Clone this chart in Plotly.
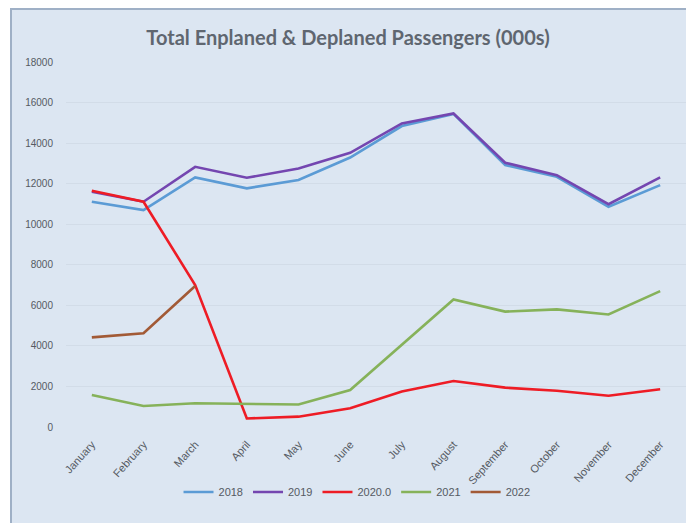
import plotly.graph_objects as go

months = ["January", "February", "March", "April", "May", "June", "July",
          "August", "September", "October", "November", "December"]
y2018 = [11110, 10700, 12310, 11770, 12180, 13290, 14840, 15440, 12920, 12340, 10860, 11930]
y2019 = [11600, 11110, 12830, 12290, 12750, 13520, 14970, 15460, 13030, 12420, 10990, 12310]
y2020 = [11650, 11110, 7000, 420, 510, 920, 1750, 2270, 1940, 1790, 1545, 1860]
y2021 = [1580, 1035, 1170, 1130, 1110, 1820, 4050, 6290, 5690, 5800, 5550, 6700]
y2022 = [4420, 4620, 6950]
series_names = ["2018", "2019", "2020.0", "2021", "2022"]
colors = ["#5b9bd5", "#7446b0", "#ee1c25", "#86b25a", "#a25a36"]

W, H = 686, 523
ML, MR, MT, MB = 66, 0, 62, 96
pw, ph = W - ML - MR, H - MT - MB

fig = go.Figure()
for name, vals, col in zip(series_names, [y2018, y2019, y2020, y2021, y2022], colors):
    fig.add_trace(go.Scatter(x=months[:len(vals)], y=vals, mode="lines", name=name,
                             line=dict(color=col, width=2.6)))

# chart box (light blue with border), expressed in paper coords
bx0, by0 = 11, 9
fig.add_shape(type="rect", xref="paper", yref="paper", layer="below",
              x0=(bx0 - ML) / pw, x1=(W + 5 - ML) / pw,
              y0=-(H + 5 - (MT + ph)) / ph, y1=(MT + ph - by0) / ph,
              fillcolor="#dce6f2", line=dict(color="#9fb0c6", width=2))

tickfont = dict(family="Liberation Sans", size=10, color="#555a62")
fig.update_layout(
    width=W, height=H,
    margin=dict(l=ML, r=MR, t=MT, b=MB),
    paper_bgcolor="white", plot_bgcolor="rgba(0,0,0,0)",
    title=dict(text="<b>Total Enplaned &amp; Deplaned Passengers (000s)</b>",
               x=348 / W, xanchor="center", y=1 - 38 / H, yanchor="middle",
               font=dict(family="Lato", size=20, color="#5f6670")),
    xaxis=dict(type="category", range=[-0.5, 11.5], tickangle=-48, showgrid=False,
               showline=False, ticks="", ticklabelstandoff=8,
               tickfont=dict(family="Liberation Sans", size=11, color="#555a62")),
    yaxis=dict(range=[0, 18000], dtick=2000, tickformat="d", showgrid=True,
               gridcolor="#d2dce8", gridwidth=1, zeroline=False, showline=False,
               ticks="", ticklabelstandoff=12, tickfont=tickfont),
    legend=dict(orientation="h", x=322 / W, xanchor="center", y=-(492 - (MT + ph)) / ph,
                yanchor="middle", yref="paper", xref="paper",
                font=dict(family="Liberation Sans", size=11, color="#555a62"),
                bgcolor="rgba(0,0,0,0)", itemwidth=30, tracegroupgap=0),
    showlegend=True,
)
fig.update_xaxes(automargin=False)
fig.update_yaxes(automargin=False)
fig.write_html("out.html")
